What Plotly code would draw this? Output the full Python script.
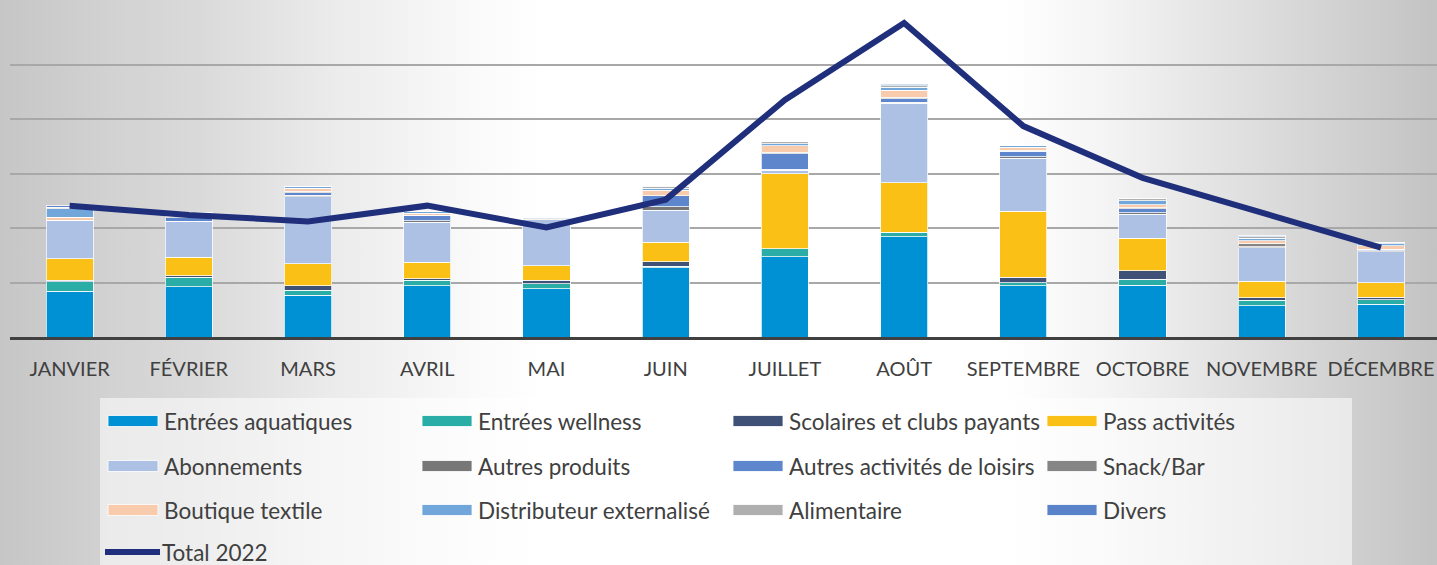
import base64
import plotly.graph_objects as go

# ---------------- data ----------------
months = ["JANVIER", "FÉVRIER", "MARS", "AVRIL", "MAI", "JUIN",
          "JUILLET", "AOÛT", "SEPTEMBRE", "OCTOBRE", "NOVEMBRE", "DÉCEMBRE"]

series_names = ["Entrées aquatiques", "Entrées wellness", "Scolaires et clubs payants", "Pass activités",
                "Abonnements", "Autres produits", "Autres activités de loisirs", "Snack/Bar",
                "Boutique textile", "Distributeur externalisé", "Alimentaire", "Divers"]

series_colors = ["#0091D5", "#2AADA6", "#3F5177", "#FAC015",
                 "#ADC1E5", "#777777", "#5E86CC", "#858585",
                 "#F8CBAD", "#70A6DA", "#AFAFAF", "#5A82C8"]

entrees_aquatiques = [0.84, 0.92, 0.77, 0.94, 0.89, 1.27, 1.47, 1.84, 0.94, 0.95, 0.57, 0.60]
entrees_wellness   = [0.17, 0.18, 0.09, 0.10, 0.09, 0.03, 0.15, 0.08, 0.06, 0.11, 0.10, 0.08]
scolaires_clubs    = [0.03, 0.02, 0.08, 0.03, 0.06, 0.08, 0.00, 0.00, 0.10, 0.16, 0.05, 0.05]
pass_activites     = [0.40, 0.34, 0.40, 0.30, 0.27, 0.36, 1.38, 0.91, 1.21, 0.59, 0.30, 0.27]
abonnements        = [0.70, 0.66, 1.23, 0.74, 0.84, 0.59, 0.06, 1.46, 0.97, 0.44, 0.62, 0.56]
autres_produits    = [0.00, 0.00, 0.03, 0.02, 0.00, 0.06, 0.02, 0.02, 0.03, 0.03, 0.02, 0.02]
autres_loisirs     = [0.00, 0.07, 0.05, 0.10, 0.00, 0.20, 0.28, 0.06, 0.10, 0.07, 0.00, 0.03]
snack_bar          = [0.00, 0.02, 0.02, 0.00, 0.00, 0.00, 0.03, 0.03, 0.02, 0.02, 0.05, 0.00]
boutique_textile   = [0.06, 0.04, 0.06, 0.04, 0.02, 0.10, 0.12, 0.13, 0.05, 0.06, 0.06, 0.06]
distributeur_ext   = [0.15, 0.04, 0.03, 0.04, 0.02, 0.04, 0.04, 0.05, 0.03, 0.07, 0.04, 0.04]
alimentaire        = [0.03, 0.00, 0.00, 0.00, 0.00, 0.04, 0.03, 0.03, 0.00, 0.04, 0.03, 0.03]
divers             = [0.03, 0.00, 0.00, 0.00, 0.00, 0.00, 0.00, 0.03, 0.00, 0.00, 0.02, 0.00]

series_values = [entrees_aquatiques, entrees_wellness, scolaires_clubs, pass_activites,
                 abonnements, autres_produits, autres_loisirs, snack_bar,
                 boutique_textile, distributeur_ext, alimentaire, divers]

total_name = "Total 2022"
total_color = "#1F2F7B"
total_2022 = [241, 224, 212, 241, 201, 252, 435, 576, 387, 292, 228, 164]

# ---------------- geometry helpers ----------------
W, H = 1437, 565
L, R, T, B = 10, 0, 10, 228
PW = W - L - R
PH = H - T - B


def px_x(x):
    return (x - L) / PW


def px_y(y):
    return (H - B - y) / PH


FONT = "Lato, 'Open Sans', sans-serif"
TXT = "#404040"

# ---------------- background gradient (svg) ----------------
stops = [(0.00, "#c6c6c6"), (0.07, "#d1d1d1"), (0.14, "#dadada"), (0.23, "#ebebeb"),
         (0.33, "#fafafa"), (0.38, "#ffffff"), (0.70, "#ffffff"), (0.77, "#f4f4f4"),
         (0.835, "#e6e6e6"), (0.905, "#d7d7d7"), (1.00, "#c3c3c3")]
stop_xml = "".join(f"<stop offset='{o}' stop-color='{c}'/>" for o, c in stops)
svg = (f"<svg xmlns='http://www.w3.org/2000/svg' width='{W}' height='{H}' viewBox='0 0 {W} {H}' preserveAspectRatio='none'>"
       f"<defs><linearGradient id='g' x1='0' y1='0' x2='1' y2='0'>{stop_xml}</linearGradient></defs>"
       f"<rect x='0' y='0' width='{W}' height='{H}' fill='url(#g)'/></svg>")
bg_uri = "data:image/svg+xml;base64," + base64.b64encode(svg.encode()).decode()

# ---------------- figure ----------------
fig = go.Figure()

for name, color, vals in zip(series_names, series_colors, series_values):
    fig.add_trace(go.Bar(
        x=months, y=vals, name=name,
        marker=dict(color=color, line=dict(color="rgba(255,255,255,0.75)", width=1)),
        showlegend=False,
    ))

fig.add_trace(go.Scatter(
    x=months, y=total_2022, name=total_name, yaxis="y2", mode="lines",
    line=dict(color=total_color, width=6),
    showlegend=False,
))

# ---------------- custom legend (built from the series lists) ----------------
shapes = []
annotations = []

# legend backdrop
shapes.append(dict(type="rect", xref="paper", yref="paper",
                   x0=px_x(100), x1=px_x(1352), y0=px_y(H + 2), y1=px_y(398),
                   fillcolor="rgba(255,255,255,0.55)", line=dict(width=0), layer="below"))

LEG_FONT = 22.5
col_x = [108, 422, 733, 1047]
row_y = [421, 466, 510, 552]
for i, (name, color) in enumerate(zip(series_names, series_colors)):
    cx = col_x[i % 4]
    cy = row_y[i // 4]
    shapes.append(dict(type="rect", xref="paper", yref="paper",
                       x0=px_x(cx), x1=px_x(cx + 50), y0=px_y(cy + 5.5), y1=px_y(cy - 5.5),
                       fillcolor=color, line=dict(color="rgba(255,255,255,0.8)", width=1)))
    annotations.append(dict(xref="paper", yref="paper", x=px_x(cx + 54), y=px_y(cy),
                            text=name, showarrow=False, xanchor="left", yanchor="middle",
                            font=dict(family=FONT, size=LEG_FONT, color=TXT)))

# total line entry
ly = row_y[(len(series_names)) // 4]
shapes.append(dict(type="line", xref="paper", yref="paper",
                   x0=px_x(105), x1=px_x(160), y0=px_y(ly), y1=px_y(ly),
                   line=dict(color=total_color, width=6)))
annotations.append(dict(xref="paper", yref="paper", x=px_x(160), y=px_y(ly),
                        text=total_name, showarrow=False, xanchor="left", yanchor="middle",
                        font=dict(family=FONT, size=LEG_FONT, color=TXT)))

fig.update_layout(
    width=W, height=H,
    margin=dict(l=L, r=R, t=T, b=B, pad=0),
    barmode="stack",
    bargap=0.605,
    paper_bgcolor="rgba(0,0,0,0)",
    plot_bgcolor="rgba(0,0,0,0)",
    showlegend=False,
    font=dict(family=FONT, color=TXT),
    xaxis=dict(
        type="category",
        range=[-0.5, 11.47],
        showgrid=False,
        showline=True, linecolor="#404040", linewidth=3,
        ticks="", ticklabelstandoff=12,
        tickfont=dict(family=FONT, size=20, color=TXT),
        fixedrange=True,
    ),
    yaxis=dict(
        range=[0, 6], dtick=1,
        showticklabels=False,
        showgrid=True, gridcolor="#a8a8a8", gridwidth=1.6,
        zeroline=False,
        fixedrange=True,
    ),
    yaxis2=dict(
        overlaying="y", side="right",
        range=[0, 600],
        visible=False,
        fixedrange=True,
    ),
    images=[dict(source=bg_uri, xref="paper", yref="paper",
                 x=px_x(0), y=px_y(0), sizex=W / PW, sizey=H / PH,
                 xanchor="left", yanchor="top", sizing="stretch", layer="below")],
    shapes=shapes,
    annotations=annotations,
)

fig.write_html(
    "out.html",
    config={"displayModeBar": False},
    post_script="document.body.style.margin='0';document.body.style.overflow='hidden';",
)
